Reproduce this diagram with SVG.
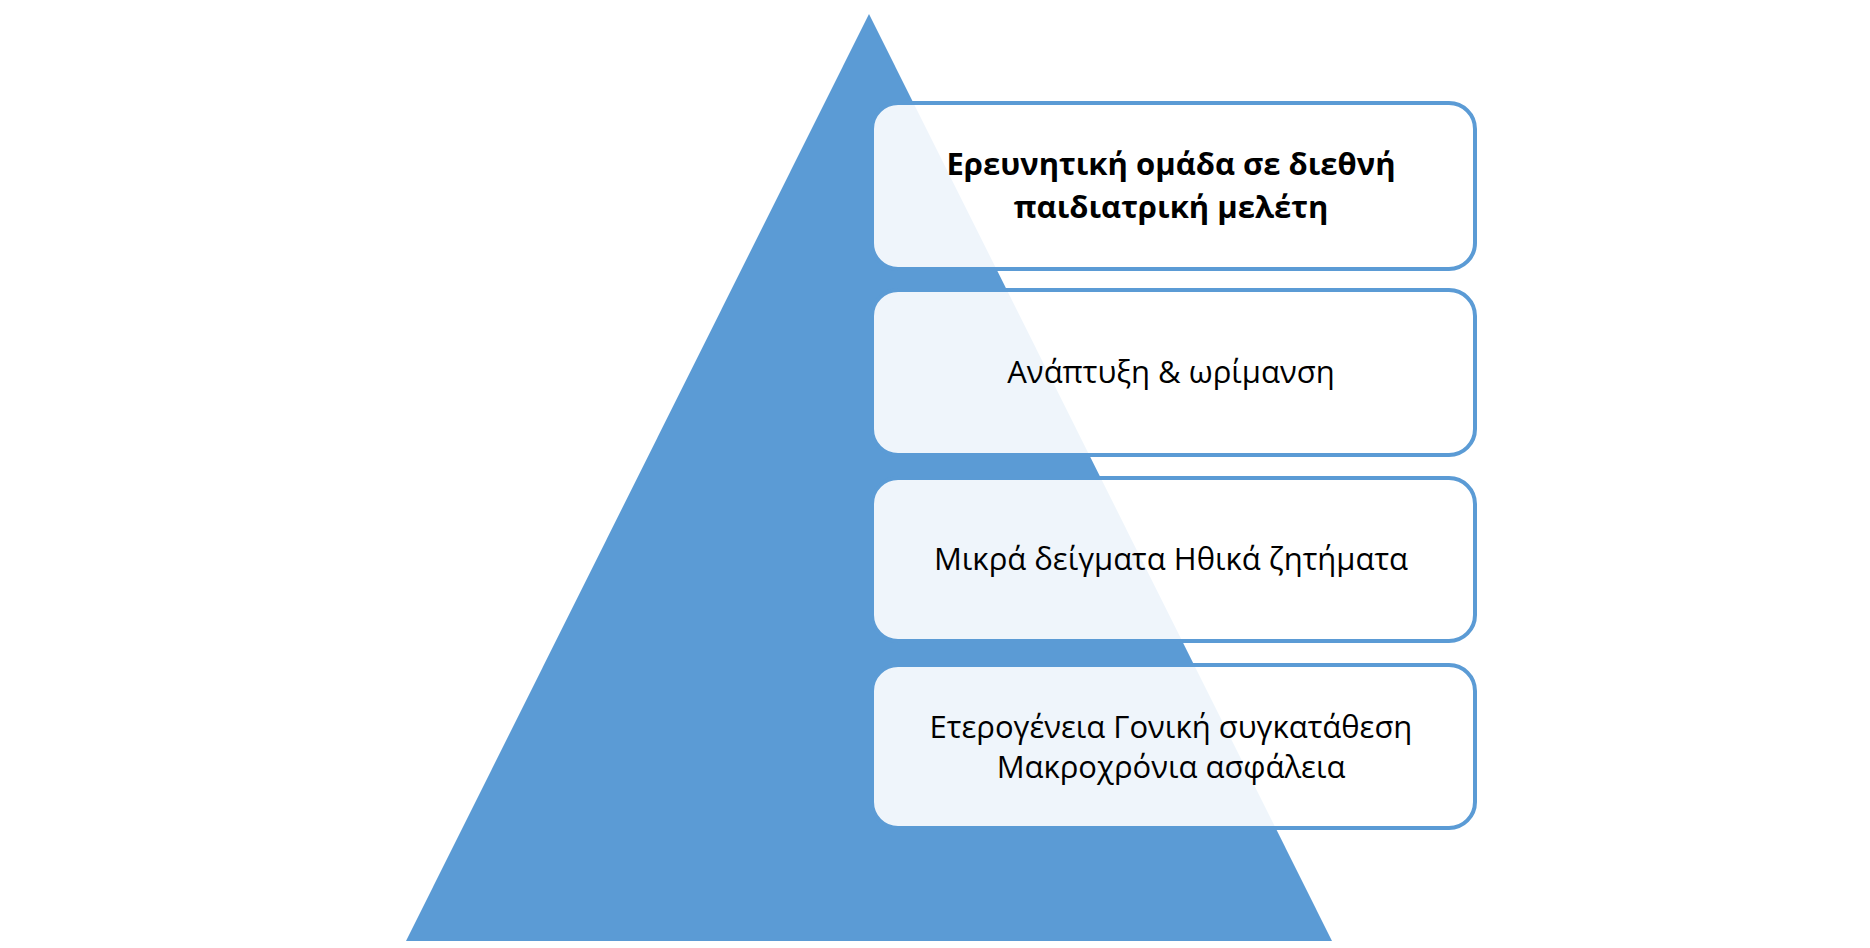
<svg xmlns="http://www.w3.org/2000/svg" width="1870" height="948" viewBox="0 0 1870 948">
<style>
.b{fill:#fff;fill-opacity:0.9;stroke:#5B9BD5;stroke-width:4}
.t{font-family:"Open Sans","Noto Sans",sans-serif;font-size:31px;fill:#000;text-anchor:middle;dominant-baseline:central}
</style>
<rect width="1870" height="948" fill="#fff"/>
<g id="pyramid"><polygon points="869,14 1332,941 406,941" fill="#5B9BD5"/></g>
<g id="n1"><rect class="b" x="872" y="103" width="603" height="166" rx="26"/>
<text class="t" x="1171" y="163" font-weight="bold">Ερευνητική ομάδα σε διεθνή</text>
<text class="t" x="1171" y="206" font-weight="bold">παιδιατρική μελέτη</text></g>
<g id="n2"><rect class="b" x="872" y="290" width="603" height="165" rx="26"/>
<text class="t" x="1171" y="371">Ανάπτυξη &amp; ωρίμανση</text></g>
<g id="n3"><rect class="b" x="872" y="478" width="603" height="163" rx="26"/>
<text class="t" x="1171" y="558">Μικρά δείγματα Ηθικά ζητήματα</text></g>
<g id="n4"><rect class="b" x="872" y="665" width="603" height="163" rx="26"/>
<text class="t" x="1171" y="726">Ετερογένεια Γονική συγκατάθεση</text>
<text class="t" x="1171" y="766">Μακροχρόνια ασφάλεια</text></g>
<g id="connectors"/>
</svg>
